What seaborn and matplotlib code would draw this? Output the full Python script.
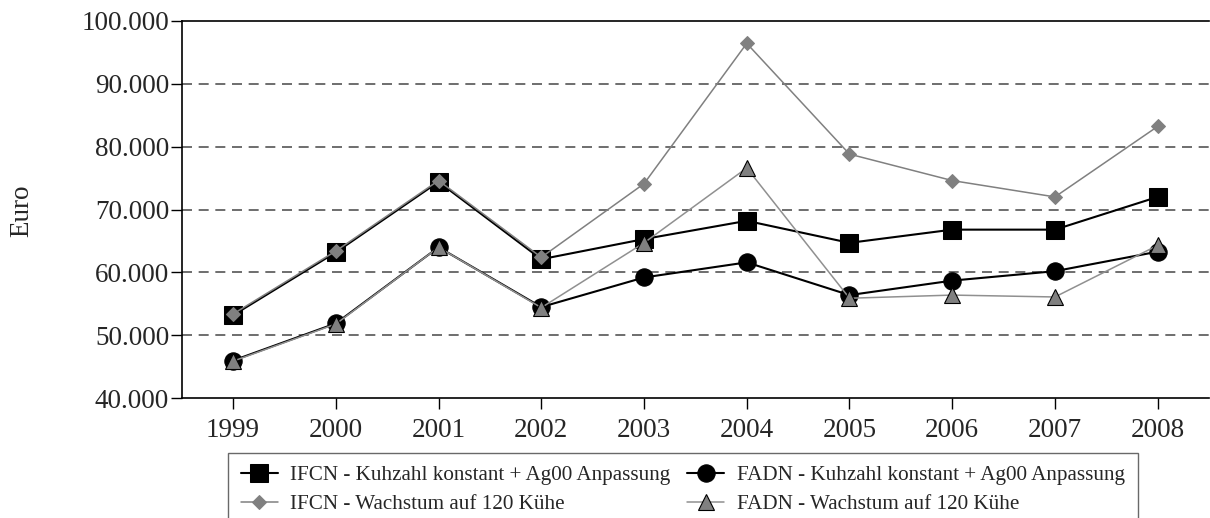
import pandas as pd
import matplotlib
matplotlib.use("Agg")
import matplotlib.pyplot as plt
import matplotlib.ticker as mticker
import seaborn as sns

sns.set_style("white")
plt.rcParams['font.family'] = ['Liberation Serif', 'DejaVu Serif']

years = [1999, 2000, 2001, 2002, 2003, 2004, 2005, 2006, 2007, 2008]
ifcn_konstant = [53200, 63200, 74400, 62100, 65300, 68200, 64700, 66800, 66800, 72000]
fadn_konstant = [46000, 51900, 64000, 54500, 59200, 61600, 56400, 58700, 60200, 63300]
ifcn_wachstum = [53400, 63400, 74600, 62400, 74100, 96400, 78800, 74600, 72000, 83200]
fadn_wachstum = [45900, 51800, 64000, 54400, 64700, 76600, 55900, 56400, 56100, 64300]
labels = [
    "IFCN - Kuhzahl konstant + Ag00 Anpassung",
    "IFCN - Wachstum auf 120 Kühe",
    "FADN - Kuhzahl konstant + Ag00 Anpassung",
    "FADN - Wachstum auf 120 Kühe",
]

fig = plt.figure(figsize=(12.1, 5.18), dpi=100)
ax = fig.add_axes([0.1502, 0.2311, 0.849, 0.7289])

# dashed horizontal grid, drawn under the series
for g in [50000, 60000, 70000, 80000, 90000]:
    ax.axhline(g, color='#555555', lw=1.2, ls=(0, (6, 4)), zorder=0)

styles = [
    (ifcn_konstant, labels[0], dict(color='black', lw=1.5, marker='s', ms=13, mfc='black', mec='black'), 3),
    (ifcn_wachstum, labels[1], dict(color='#808080', lw=1.1, marker='D', ms=7.5, mfc='#808080', mec='#808080'), 4),
    (fadn_konstant, labels[2], dict(color='black', lw=1.5, marker='o', ms=12.5, mfc='black', mec='black'), 3),
    (fadn_wachstum, labels[3], dict(color='#909090', lw=1.1, marker='^', ms=11, mfc='#808080', mec='black', mew=0.8), 4),
]
for vals, lab, kw, z in styles:
    df = pd.DataFrame({'year': years, 'value': vals})
    sns.lineplot(data=df, x='year', y='value', ax=ax, label=lab, zorder=z, **kw)

ax.set_xlim(1998.5, 2008.5)
ax.set_ylim(40000, 100000)
ax.set_xticks(years)
ax.set_yticks(range(40000, 100001, 10000))
ax.yaxis.set_major_formatter(mticker.FuncFormatter(lambda v, p: f"{int(v):,}".replace(",", ".")))
ax.tick_params(axis='both', which='major', direction='out', length=8, width=1,
               labelsize=19.5, color='black', left=True, bottom=True)
ax.tick_params(axis='x', pad=6)
ax.tick_params(axis='y', pad=1)
ax.set_xlabel("")
ax.set_ylabel("")
fig.text(22 / 1210, 1 - 211 / 518, "Euro", rotation=90, fontsize=19.5,
         ha='center', va='center')
for s in ['left', 'bottom', 'top']:
    ax.spines[s].set_color('black')
    ax.spines[s].set_linewidth(1.2)
ax.spines['right'].set_visible(False)

leg = ax.legend(ncol=2, loc='upper left', bbox_to_anchor=(228 / 1210, 1 - 453 / 518),
                bbox_transform=fig.transFigure, fontsize=15.2, frameon=True,
                fancybox=False, edgecolor='#444444', handlelength=1.75,
                handletextpad=0.6, columnspacing=0.8, labelspacing=0.42,
                borderpad=0.6, borderaxespad=0)
leg.get_frame().set_linewidth(1.0)

plt.savefig('out.png', dpi=100)
